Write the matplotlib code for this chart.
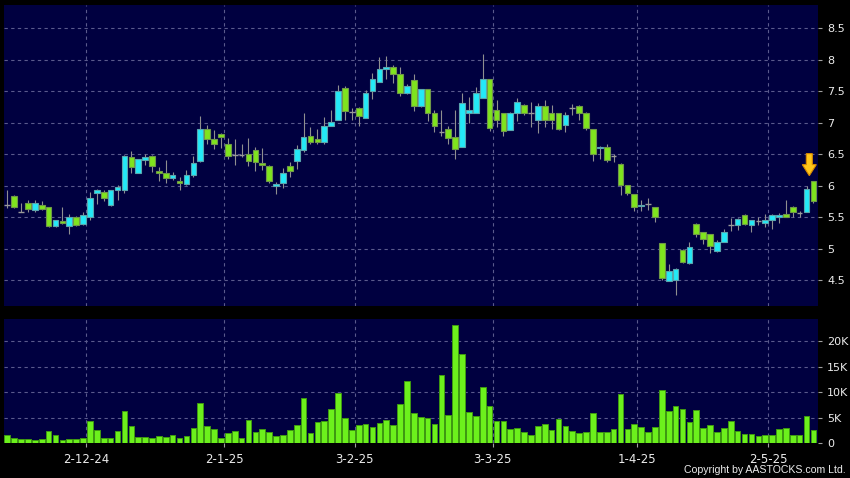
import numpy as np
import matplotlib.pyplot as plt
from matplotlib.patches import Polygon
import matplotlib.transforms as mtransforms
from matplotlib.ticker import FuncFormatter

# daily candles, 15-11-24 .. 14-5-25 (HK trading days)
opens = [5.69, 5.84, 5.59, 5.72, 5.62, 5.70, 5.66, 5.36, 5.44, 5.36,
         5.51, 5.40, 5.51, 5.88, 5.90, 5.69, 5.94, 5.93, 6.45, 6.21,
         6.41, 6.47, 6.24, 6.21, 6.12, 6.08, 6.02, 6.17, 6.40, 6.90,
         6.74, 6.82, 6.66, 6.49, 6.49, 6.50, 6.56, 6.36, 6.32, 5.99,
         6.05, 6.32, 6.39, 6.57, 6.79, 6.74, 6.69, 6.95, 7.05, 7.55,
         7.17, 7.24, 7.08, 7.50, 7.65, 7.85, 7.89, 7.77, 7.47, 7.68,
         7.26, 7.53, 7.15, 6.85, 6.90, 6.77, 6.62, 7.16, 7.16, 7.39,
         7.69, 7.20, 7.16, 6.89, 7.15, 7.28, 7.15, 7.05, 7.26, 7.16,
         7.15, 6.97, 7.24, 7.27, 7.16, 6.90, 6.60, 6.62, 6.47, 6.35,
         6.01, 5.87, 5.68, 5.71, 5.66, 5.09, 4.49, 4.50, 4.98, 4.78,
         5.40, 5.27, 5.23, 4.97, 5.10, 5.38, 5.37, 5.54, 5.37, 5.44,
         5.41, 5.45, 5.50, 5.55, 5.66, 5.56, 5.59, 6.07]
highs = [5.93, 5.85, 5.72, 5.78, 5.77, 5.75, 5.67, 5.46, 5.66, 5.55,
         5.52, 5.59, 5.90, 5.95, 5.93, 5.93, 6.01, 6.48, 6.55, 6.43,
         6.50, 6.48, 6.30, 6.41, 6.22, 6.14, 6.25, 6.47, 7.10, 6.96,
         6.88, 6.83, 6.75, 6.74, 6.66, 6.76, 6.62, 6.60, 6.33, 6.06,
         6.28, 6.38, 6.65, 7.15, 6.93, 6.90, 7.09, 7.20, 7.60, 7.58,
         7.24, 7.25, 7.52, 7.79, 8.04, 8.06, 7.92, 7.89, 7.62, 7.77,
         7.54, 7.54, 7.20, 7.21, 6.95, 7.21, 7.48, 7.41, 7.57, 8.09,
         7.69, 7.36, 7.16, 7.17, 7.40, 7.30, 7.33, 7.32, 7.36, 7.28,
         7.15, 7.17, 7.29, 7.28, 7.17, 6.90, 6.63, 6.66, 6.50, 6.36,
         6.01, 5.87, 5.77, 5.80, 5.66, 5.09, 4.75, 4.70, 5.00, 5.10,
         5.41, 5.27, 5.23, 5.14, 5.32, 5.48, 5.48, 5.55, 5.45, 5.50,
         5.55, 5.55, 5.56, 5.78, 5.68, 5.60, 6.00, 6.07]
lows = [5.64, 5.65, 5.58, 5.59, 5.59, 5.61, 5.35, 5.35, 5.39, 5.23,
        5.36, 5.37, 5.45, 5.71, 5.75, 5.68, 5.77, 5.88, 6.21, 6.20,
        6.33, 6.22, 6.08, 6.04, 6.09, 5.94, 6.01, 6.14, 6.38, 6.66,
        6.58, 6.60, 6.42, 6.33, 6.46, 6.32, 6.24, 6.25, 6.05, 5.87,
        5.96, 6.14, 6.27, 6.54, 6.66, 6.66, 6.67, 6.95, 7.04, 7.05,
        7.05, 6.95, 7.07, 7.38, 7.65, 7.69, 7.63, 7.42, 7.46, 7.18,
        7.25, 7.02, 6.85, 6.79, 6.67, 6.43, 6.61, 7.00, 7.15, 7.39,
        6.87, 6.94, 6.79, 6.88, 7.03, 7.13, 6.93, 6.83, 6.94, 6.90,
        6.88, 6.86, 7.13, 7.04, 6.89, 6.40, 6.42, 6.37, 6.37, 5.86,
        5.86, 5.60, 5.60, 5.61, 5.43, 4.50, 4.48, 4.27, 4.78, 4.76,
        5.19, 5.07, 4.93, 4.95, 5.10, 5.28, 5.29, 5.38, 5.27, 5.38,
        5.35, 5.31, 5.41, 5.51, 5.50, 5.51, 5.58, 5.73]
closes = [5.69, 5.66, 5.59, 5.63, 5.72, 5.63, 5.36, 5.45, 5.41, 5.51,
          5.37, 5.54, 5.81, 5.93, 5.80, 5.93, 5.98, 6.47, 6.30, 6.42,
          6.45, 6.32, 6.21, 6.12, 6.17, 6.05, 6.17, 6.36, 6.90, 6.74,
          6.67, 6.77, 6.48, 6.49, 6.49, 6.40, 6.38, 6.33, 6.08, 6.03,
          6.21, 6.24, 6.58, 6.78, 6.69, 6.69, 6.95, 7.01, 7.51, 7.18,
          7.17, 7.11, 7.47, 7.69, 7.85, 7.88, 7.77, 7.47, 7.58, 7.26,
          7.53, 7.15, 6.95, 6.85, 6.75, 6.58, 7.32, 7.20, 7.47, 7.69,
          6.91, 7.04, 6.87, 7.15, 7.33, 7.15, 7.15, 7.26, 7.04, 7.05,
          6.90, 7.12, 7.24, 7.15, 6.92, 6.50, 6.62, 6.41, 6.47, 6.01,
          5.89, 5.67, 5.70, 5.71, 5.51, 4.53, 4.64, 4.67, 4.79, 5.02,
          5.24, 5.16, 5.05, 5.10, 5.26, 5.38, 5.47, 5.39, 5.45, 5.44,
          5.45, 5.54, 5.53, 5.51, 5.59, 5.56, 5.95, 5.75]
volumes = [1570, 1110, 780, 780, 720, 850, 2350, 1570, 590, 780,
           780, 980, 4380, 2610, 1050, 1110, 2420, 6340, 3400, 1180,
           1310, 1050, 1370, 1310, 1570, 1050, 1440, 3010, 7970, 3460,
           2880, 1050, 2090, 2350, 1110, 4580, 2220, 2750, 2220, 1440,
           1700, 2610, 3660, 8820, 2030, 4250, 4380, 6800, 9800, 5030,
           2610, 3600, 3790, 3200, 3920, 4580, 3600, 7780, 12160, 6010,
           5160, 5030, 3790, 13330, 5490, 23200, 17520, 6210, 5360, 11050,
           7260, 4310, 4310, 2750, 3010, 2220, 1700, 3400, 3790, 2680,
           4840, 3400, 2350, 2090, 2220, 5880, 2220, 2220, 2880, 9670,
           2810, 3730, 3200, 2160, 3270, 10390, 6410, 7260, 6730, 4180,
           6540, 3070, 3530, 2290, 3070, 4380, 2350, 1830, 1770, 1440,
           1630, 1630, 2750, 2940, 1630, 1630, 5430, 2610]

date_ticks = [11, 31, 50, 70, 91, 110]
date_labels = ['2-12-24', '2-1-25', '3-2-25', '3-3-25', '1-4-25', '2-5-25']
price_ticks = [4.5, 5, 5.5, 6, 6.5, 7, 7.5, 8, 8.5]
vol_ticks = [0, 5000, 10000, 15000, 20000]

BG = '#000040'
GRID = '#5a5a8c'
TXT = '#ececec'
UP = '#24e9f7'
DOWN = '#7fe41e'

o = np.array(opens)
h = np.array(highs)
l = np.array(lows)
c = np.array(closes)
x = np.arange(len(o))

fig = plt.figure(figsize=(8.5, 4.78), dpi=100, facecolor='black')
ax = fig.add_axes([4 / 850, 1 - 306 / 478, 814 / 850, 301 / 478])
axv = fig.add_axes([4 / 850, 1 - 443.3 / 478, 814 / 850, 124.3 / 478])

grid_x = np.array(date_ticks) + 0.45
for a in (ax, axv):
    a.set_facecolor(BG)
    for s in a.spines.values():
        s.set_visible(False)
    a.set_xlim(-0.48, len(o) - 0.34)
    a.set_xticks(grid_x)
    a.grid(True, color=GRID, linestyle=(0, (3, 3)), linewidth=0.8)
    a.set_axisbelow(True)
    a.yaxis.tick_right()
    a.tick_params(axis='y', colors='#a0a0a0', labelcolor=TXT, length=3,
                  width=0.8, pad=3.5, labelsize=8)

# price panel
up = c > o
down = c < o
flat = c == o
ax.vlines(x, l, h, color='#8f8f8f', linewidth=0.8, zorder=2)
ax.bar(x[up], (c - o)[up], bottom=o[up], width=0.82, color=UP,
       edgecolor='#5aa6ae', linewidth=0.8, zorder=3)
ax.bar(x[down], (o - c)[down], bottom=c[down], width=0.82, color=DOWN,
       edgecolor='#6f9848', linewidth=0.8, zorder=3)
ax.hlines(o[flat], x[flat] - 0.41, x[flat] + 0.41, color='#9a9a9a',
          linewidth=1.0, zorder=3)
ax.set_ylim(4.09, 8.87)
ax.set_yticks(price_ticks)
ax.yaxis.set_major_formatter(FuncFormatter(lambda v, p: '%g' % v))
ax.tick_params(axis='x', length=0, labelbottom=False)

# marker arrow above the latest candle
last = len(o) - 1
tip_x, tip_y = last - 0.6, h[last] + 0.09
arrow_px = np.array([[0, 0], [-7, 11], [-3, 11], [-3, 22],
                     [3, 22], [3, 11], [7, 11]]) / 100.0
trans = fig.dpi_scale_trans + mtransforms.ScaledTranslation(tip_x, tip_y, ax.transData)
ax.add_patch(Polygon(arrow_px, closed=True, transform=trans, facecolor='#ffc61a',
                     edgecolor='#d98a00', linewidth=0.8, zorder=5, clip_on=False))

# volume panel
axv.bar(x, volumes, width=0.82, color='#6cf01c', edgecolor='#3f9a12',
        linewidth=0.7, zorder=3)
axv.set_ylim(0, 24400)
axv.set_yticks(vol_ticks)
axv.yaxis.set_major_formatter(
    FuncFormatter(lambda v, p: '0' if v == 0 else '%dK' % (v / 1000)))
axv.set_xticklabels(date_labels)
axv.tick_params(axis='x', colors='#a0a0a0', labelcolor=TXT, length=3,
                width=0.8, pad=4, labelsize=8.5)

fig.text(0.995, 0.006, 'Copyright by AASTOCKS.com Ltd.', color=TXT,
         fontsize=7.6, family='Liberation Sans', ha='right', va='bottom')

fig.savefig('out.png', dpi=100, facecolor='black')
